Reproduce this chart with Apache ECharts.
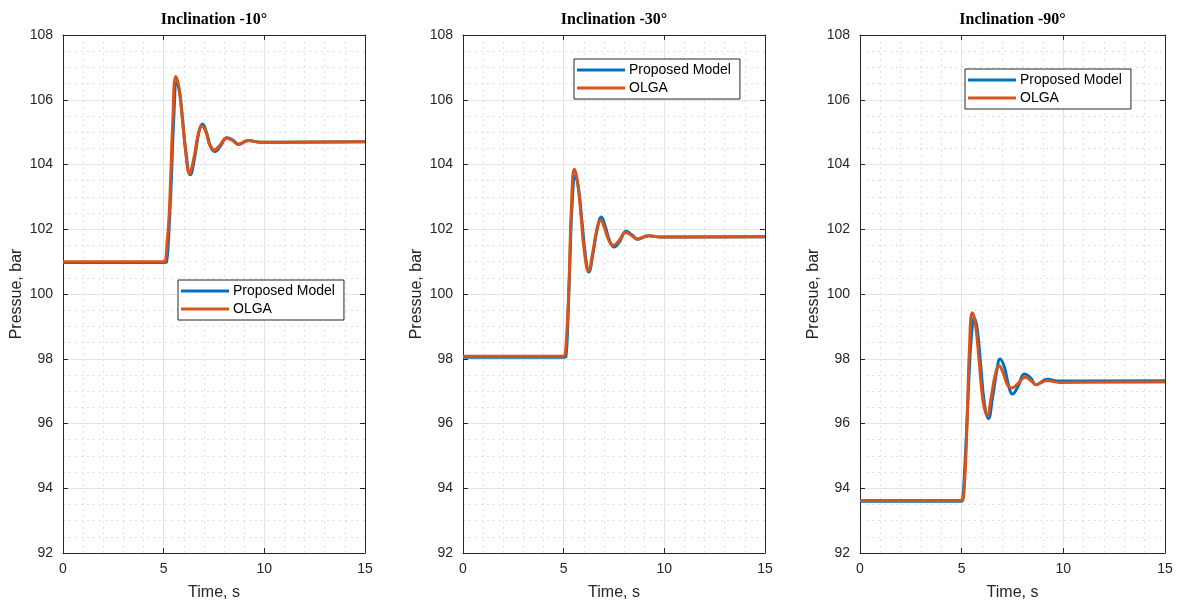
<!DOCTYPE html>
<html>
<head>
<meta charset="utf-8">
<title>Inclination pressure response</title>
<script src="https://cdn.jsdelivr.net/npm/echarts@6/dist/echarts.min.js"></script>
<style>
  html, body { margin: 0; padding: 0; background: #fff; }
  #main { width: 1178px; height: 606px; }
</style>
</head>
<body>
<div id="main"></div>
<script>
// panel titles and axis ticks
var panelTitles = ['Inclination -10°', 'Inclination -30°', 'Inclination -90°'];
var xTicks = [0, 5, 10, 15];
var yTicks = [92, 94, 96, 98, 100, 102, 104, 106, 108];
var seriesNames = ['Proposed Model', 'OLGA'];

// inclination -10
var t10Model = [0, 5.05, 5.15, 5.25, 5.38, 5.5, 5.65, 5.8, 5.95, 6.12, 6.32, 6.55, 6.75, 6.93, 7.13, 7.33, 7.55, 7.83, 8.15, 8.45, 8.72, 9.22, 9.8, 15];
var p10Model = [100.97, 100.97, 101.0, 101.8, 103.5, 105.4, 106.55, 106.2, 105.3, 104.3, 103.68, 104.25, 105.0, 105.25, 104.98, 104.55, 104.4, 104.58, 104.83, 104.75, 104.62, 104.74, 104.69, 104.7];
var t10Olga = [0, 5.0, 5.1, 5.17, 5.25, 5.33, 5.45, 5.6, 5.75, 5.9, 6.08, 6.28, 6.5, 6.72, 6.9, 7.1, 7.3, 7.52, 7.8, 8.12, 8.42, 8.7, 9.2, 9.8, 15];
var p10Olga = [101.0, 101.0, 101.05, 101.6, 102.2, 103.3, 105.3, 106.72, 106.4, 105.6, 104.5, 103.72, 104.2, 104.95, 105.2, 105.0, 104.6, 104.45, 104.6, 104.82, 104.74, 104.63, 104.74, 104.69, 104.7];

// inclination -30
var t30Model = [0, 5.05, 5.12, 5.2, 5.3, 5.43, 5.58, 5.73, 5.9, 6.08, 6.25, 6.47, 6.68, 6.87, 7.07, 7.28, 7.5, 7.78, 8.1, 8.4, 8.67, 9.22, 9.8, 15];
var p30Model = [98.05, 98.05, 98.1, 99.0, 100.8, 102.9, 103.65, 103.3, 102.3, 101.2, 100.68, 101.3, 102.05, 102.38, 102.08, 101.65, 101.45, 101.62, 101.94, 101.82, 101.69, 101.8, 101.76, 101.77];
var t30Olga = [0, 5.0, 5.08, 5.14, 5.2, 5.28, 5.38, 5.53, 5.68, 5.85, 6.03, 6.23, 6.45, 6.65, 6.84, 7.05, 7.25, 7.47, 7.75, 8.08, 8.38, 8.65, 9.2, 9.8, 15];
var p30Olga = [98.08, 98.08, 98.15, 98.65, 99.3, 100.6, 102.6, 103.85, 103.5, 102.5, 101.3, 100.72, 101.3, 102.0, 102.28, 102.0, 101.65, 101.5, 101.65, 101.9, 101.8, 101.7, 101.8, 101.76, 101.77];

// inclination -90
var t90Model = [0, 5.0, 5.06, 5.15, 5.25, 5.35, 5.48, 5.62, 5.77, 5.95, 6.12, 6.31, 6.52, 6.72, 6.89, 7.1, 7.3, 7.49, 7.78, 8.08, 8.38, 8.66, 9.21, 9.8, 15];
var p90Model = [93.6, 93.6, 93.7, 94.6, 95.9, 97.3, 98.7, 99.26, 98.9, 97.7, 96.6, 96.15, 96.8, 97.6, 97.99, 97.75, 97.2, 96.91, 97.15, 97.53, 97.42, 97.2, 97.37, 97.31, 97.32];
var t90Olga = [0, 5.0, 5.08, 5.14, 5.2, 5.28, 5.38, 5.52, 5.67, 5.85, 6.05, 6.26, 6.45, 6.65, 6.84, 7.05, 7.25, 7.46, 7.75, 8.12, 8.4, 8.66, 9.2, 9.8, 15];
var p90Olga = [93.62, 93.62, 93.7, 94.15, 94.9, 96.3, 98.3, 99.42, 99.1, 98.0, 96.7, 96.25, 96.8, 97.5, 97.78, 97.55, 97.2, 97.1, 97.22, 97.43, 97.33, 97.2, 97.33, 97.27, 97.28];

var panels = [
  {model: [t10Model, p10Model], olga: [t10Olga, p10Olga]},
  {model: [t30Model, p30Model], olga: [t30Olga, p30Olga]},
  {model: [t90Model, p90Model], olga: [t90Olga, p90Olga]}
];

var gridBoxes = [
  {left: 63, top: 35, width: 302, height: 522},
  {left: 463, top: 35, width: 302, height: 522},
  {left: 860, top: 35, width: 305, height: 522}
];
var legendPos = [
  {left: 178, top: 280},
  {left: 574, top: 59},
  {left: 965, top: 69}
];

var axisColor = '#262626';
var font = 'Liberation Sans, Arial, sans-serif';

function zip(t, p) {
  var out = [];
  for (var i = 0; i < t.length; i++) out.push([t[i], p[i]]);
  return out;
}

function baseAxis(extra) {
  var a = {
    type: 'value',
    axisLine: {show: true, onZero: false, lineStyle: {color: axisColor, width: 1}},
    axisTick: {show: true, inside: true, length: 5, lineStyle: {color: axisColor}},
    splitLine: {show: false},
    minorTick: {show: false},
    minorSplitLine: {show: false},
    axisLabel: {show: false}
  };
  for (var k in extra) a[k] = extra[k];
  return a;
}

var grids = [], xAxes = [], yAxes = [], series = [], legends = [], texts = [];

gridBoxes.forEach(function (g, i) {
  grids.push({left: g.left, top: g.top, width: g.width, height: g.height, containLabel: false});

  // bottom x axis with labels and grid
  xAxes.push(baseAxis({
    gridIndex: i, position: 'bottom', min: xTicks[0], max: xTicks[xTicks.length - 1], interval: 5,
    name: 'Time, s', nameLocation: 'middle', nameGap: 32,
    nameTextStyle: {color: axisColor, fontSize: 16, fontFamily: font},
    axisLabel: {show: true, color: axisColor, fontSize: 14, fontFamily: font, margin: 9},
    splitLine: {show: true, lineStyle: {color: '#e3e3e3', width: 1}},
    minorTick: {show: false, splitNumber: 5},
    minorSplitLine: {show: true, lineStyle: {color: '#e0e0e0', type: [2, 4], width: 1}}
  }));
  // top x axis (box + ticks only)
  xAxes.push(baseAxis({
    gridIndex: i, position: 'top', min: xTicks[0], max: xTicks[xTicks.length - 1], interval: 5
  }));
  // left y axis
  yAxes.push(baseAxis({
    gridIndex: i, position: 'left', min: yTicks[0], max: yTicks[yTicks.length - 1], interval: 2,
    name: 'Pressue, bar', nameLocation: 'middle', nameGap: 38,
    nameTextStyle: {color: axisColor, fontSize: 16, fontFamily: font},
    axisLabel: {show: true, color: axisColor, fontSize: 14, fontFamily: font, margin: 10},
    splitLine: {show: true, lineStyle: {color: '#e3e3e3', width: 1}},
    minorTick: {show: false, splitNumber: 4},
    minorSplitLine: {show: true, lineStyle: {color: '#e0e0e0', type: [2, 4], width: 1}}
  }));
  // right y axis
  yAxes.push(baseAxis({
    gridIndex: i, position: 'right', min: yTicks[0], max: yTicks[yTicks.length - 1], interval: 2
  }));

  var p = panels[i];
  series.push({
    name: seriesNames[0], type: 'line', xAxisIndex: 2 * i, yAxisIndex: 2 * i,
    data: zip(p.model[0], p.model[1]), showSymbol: false, smooth: 0.45,
    lineStyle: {color: '#0072BD', width: 3}, itemStyle: {color: '#0072BD'}, z: 3
  });
  series.push({
    name: seriesNames[1], type: 'line', xAxisIndex: 2 * i, yAxisIndex: 2 * i,
    data: zip(p.olga[0], p.olga[1]), showSymbol: false, smooth: 0.45,
    lineStyle: {color: '#D95319', width: 3}, itemStyle: {color: '#D95319'}, z: 4
  });

  legends.push({
    data: seriesNames, orient: 'vertical', left: legendPos[i].left, top: legendPos[i].top,
    backgroundColor: '#fff', borderColor: axisColor, borderWidth: 1,
    padding: [4, 9, 4, 3], itemGap: 4, itemWidth: 48, itemHeight: 3, icon: 'rect',
    selectedMode: false,
    textStyle: {color: '#000', fontSize: 14, fontFamily: font, padding: [0, 0, 0, -1]}
  });

  texts.push({
    type: 'text', x: g.left + g.width / 2, y: 20,
    style: {text: panelTitles[i], fill: '#000', font: 'bold 16px "Liberation Serif", "DejaVu Serif", serif', textAlign: 'center', textVerticalAlign: 'middle'}
  });
});

var chart = echarts.init(document.getElementById('main'), null, {renderer: 'canvas'});
chart.setOption({
  animation: false,
  backgroundColor: '#fff',
  grid: grids,
  xAxis: xAxes,
  yAxis: yAxes,
  legend: legends,
  graphic: texts,
  series: series
});
</script>
</body>
</html>
